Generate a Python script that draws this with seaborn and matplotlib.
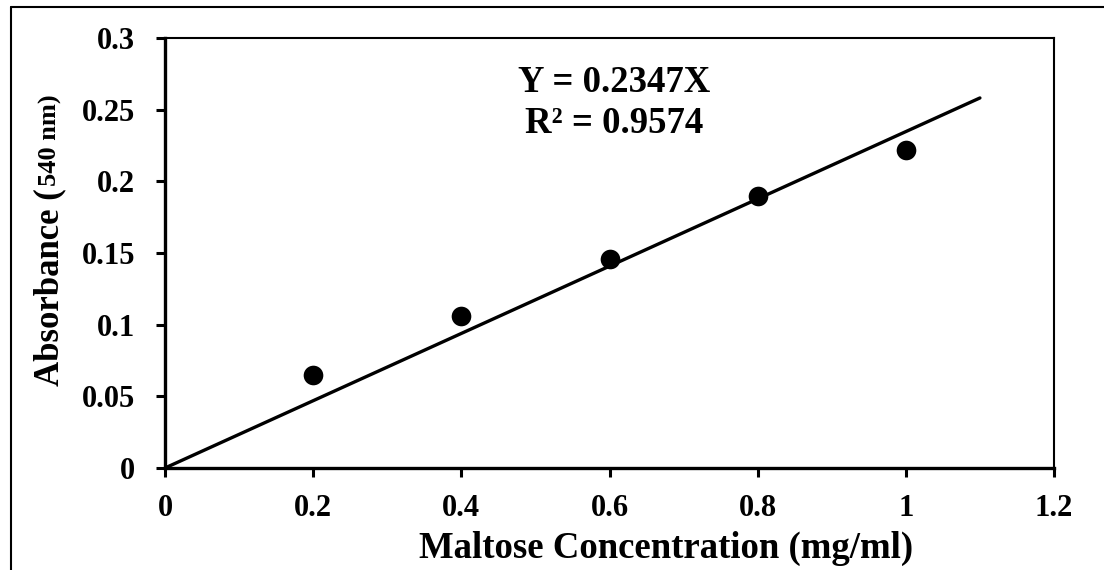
import matplotlib
matplotlib.use("Agg")
import matplotlib.pyplot as plt
import seaborn as sns
import pandas as pd
from matplotlib.lines import Line2D

# Data
concentration = [0.2, 0.4, 0.6, 0.8, 1.0]
absorbance = [0.065, 0.106, 0.146, 0.190, 0.222]
slope = 0.2347
r_squared = 0.9574
fit_x = [0.0, 1.1]
x_ticks = [0, 0.2, 0.4, 0.6, 0.8, 1, 1.2]
x_tick_labels = ["0", "0.2", "0.4", "0.6", "0.8", "1", "1.2"]
y_ticks = [0, 0.05, 0.1, 0.15, 0.2, 0.25, 0.3]
y_tick_labels = ["0", "0.05", "0.1", "0.15", "0.2", "0.25", "0.3"]

sns.set_theme(style="white")
plt.rcParams['font.family'] = ['Liberation Serif', 'DejaVu Serif']
plt.rcParams['font.weight'] = 'bold'

W, H = 1104, 570
fig = plt.figure(figsize=(W/100, H/100), dpi=100)
ax = fig.add_axes([165/W, 1-468/H, (1054-165)/W, (468-38)/H])

df = pd.DataFrame({"x": concentration, "y": absorbance})
fit_df = pd.DataFrame({"x": fit_x, "y": [slope * v for v in fit_x]})

sns.lineplot(data=fit_df, x="x", y="y", ax=ax, color="black", linewidth=2.4, zorder=2)
sns.scatterplot(data=df, x="x", y="y", ax=ax, color="black", s=200, edgecolor="black", linewidth=0, zorder=3)

ax.set_xlim(0, 1.2)
ax.set_ylim(0, 0.3)
ax.set_xticks(x_ticks)
ax.set_xticklabels(x_tick_labels)
ax.set_yticks(y_ticks)
ax.set_yticklabels(y_tick_labels)
ax.tick_params(axis='both', direction='out', length=6.5, width=2.2, color='black',
               labelsize=22, bottom=True, left=True)
ax.tick_params(axis='y', pad=15)
ax.tick_params(axis='x', pad=12)
for lab in ax.get_xticklabels() + ax.get_yticklabels():
    lab.set_fontweight('bold')
    lab.set_color('black')

for side in ['left', 'bottom']:
    ax.spines[side].set_linewidth(2.4)
    ax.spines[side].set_color('black')
for side in ['top', 'right']:
    ax.spines[side].set_linewidth(1.5)
    ax.spines[side].set_color('black')
    ax.spines[side].set_visible(True)

ax.set_xlabel("Maltose Concentration (mg/ml)", fontsize=26.5, fontweight='bold', color='black')
ax.xaxis.set_label_coords((666-165)/(1054-165), (468-558)/(468-38))
ax.xaxis.label.set_va('baseline')
ax.set_ylabel("")

ax.text((614-165)/889, (468-92)/430, f"Y = {slope}X", transform=ax.transAxes, ha='center', va='baseline',
        fontsize=26.5, fontweight='bold', color='black')
ax.text((614-165)/889, (468-133)/430, f"R² = {r_squared}", transform=ax.transAxes, ha='center', va='baseline',
        fontsize=26.5, fontweight='bold', color='black')

# y-label in two sizes
t1 = fig.text(58/W, 1-386/H, "Absorbance (", rotation=90, rotation_mode='anchor',
              ha='left', va='baseline', fontsize=25, fontweight='bold', color='black')
fig.canvas.draw()
bb = t1.get_window_extent(fig.canvas.get_renderer())
top_frac = bb.y1 / H
fig.text(57/W, top_frac + 2/H, "540 nm)", rotation=90, rotation_mode='anchor',
         ha='left', va='baseline', fontsize=19, fontweight='bold', color='black')

# outer frame
fig.add_artist(Line2D([11/W, 1.0], [1-7/H, 1-7/H], transform=fig.transFigure, color='black', linewidth=1.5))
fig.add_artist(Line2D([11/W, 11/W], [0, 1-7/H], transform=fig.transFigure, color='black', linewidth=1.5))

fig.savefig("out.png", dpi=100)
